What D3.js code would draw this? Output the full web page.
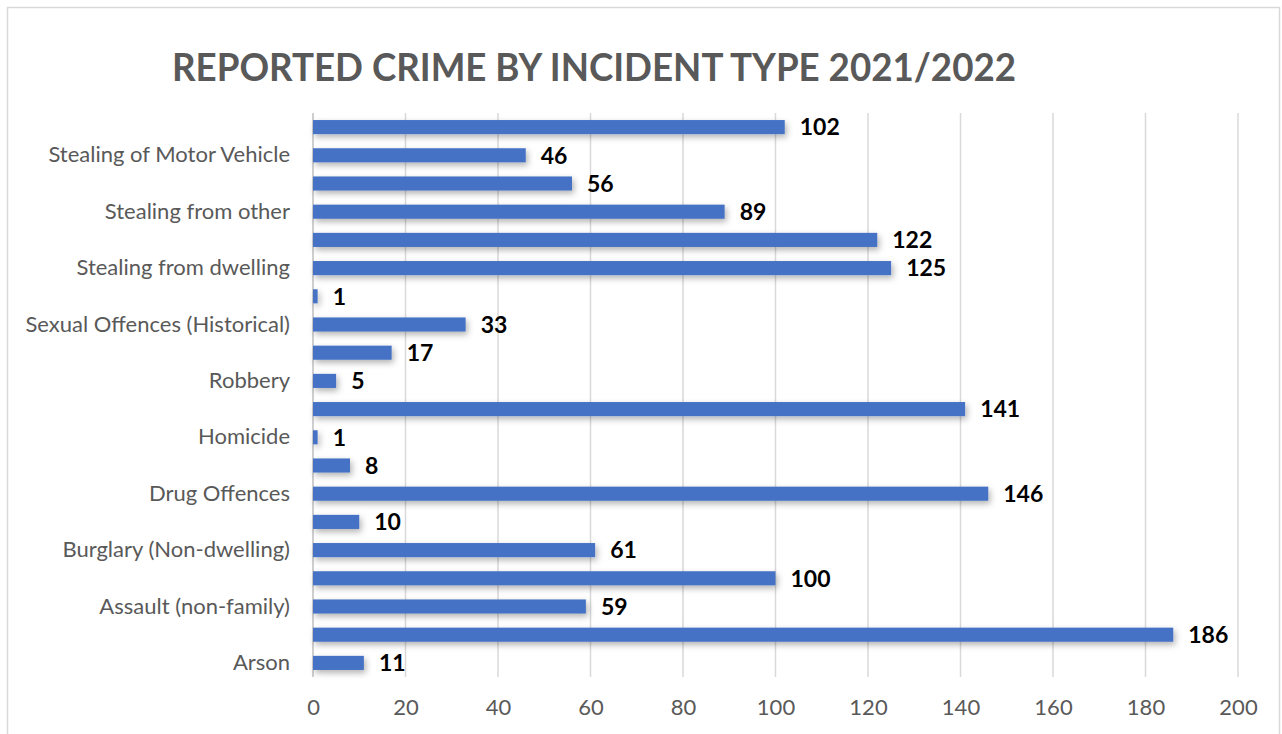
<!DOCTYPE html>
<html>
<head>
<meta charset="utf-8">
<script src="https://cdn.jsdelivr.net/npm/d3@7"></script>
<style>
  html, body { margin: 0; padding: 0; background: #fff; }
  svg { display: block; }
</style>
</head>
<body>
<svg id="chart" width="1282" height="734"></svg>
<script>
// ---- Data (bottom to top, as in the source chart) ----
const categories = [
  "Arson", "", "Assault (non-family)", "", "Burglary (Non-dwelling)", "",
  "Drug Offences", "", "Homicide", "", "Robbery", "",
  "Sexual Offences (Historical)", "", "Stealing from dwelling", "",
  "Stealing from other ", "", "Stealing of Motor Vehicle", ""
];
const values = [11, 186, 59, 100, 61, 10, 146, 8, 1, 141, 5, 17, 33, 1, 125, 122, 89, 56, 46, 102];
const xTicks = [0, 20, 40, 60, 80, 100, 120, 140, 160, 180, 200];
const title = "REPORTED CRIME BY INCIDENT TYPE 2021/2022";

const svg = d3.select("#chart");

// chart frame
svg.append("rect")
  .attr("x", 7.5).attr("y", 7.5)
  .attr("width", 1272).attr("height", 740)
  .attr("fill", "#fff").attr("stroke", "#d9d9d9").attr("stroke-width", 1.5);

const defs = svg.append("defs");
const f = defs.append("filter").attr("id", "shadow")
  .attr("x", "-20%").attr("y", "-60%").attr("width", "140%").attr("height", "260%");
f.append("feDropShadow").attr("dx", 2).attr("dy", 3).attr("stdDeviation", 3)
  .attr("flood-color", "#000").attr("flood-opacity", 0.3);

// title
svg.append("text")
  .attr("x", 172).attr("y", 81)
  .attr("textLength", 844).attr("lengthAdjust", "spacingAndGlyphs")
  .attr("font-family", "Lato, 'Open Sans', sans-serif")
  .attr("font-weight", 700).attr("font-size", 39)
  .attr("fill", "#595959")
  .text(title);

const plot = { left: 313, right: 1238, top: 113, bottom: 677 };

const x = d3.scaleLinear().domain([0, 200]).range([plot.left, plot.right]);
const idx = d3.range(categories.length);
const y = d3.scaleBand().domain(idx).range([plot.bottom, plot.top])
  .paddingInner(0.5).paddingOuter(0.25);

// gridlines
svg.append("g").selectAll("line").data(xTicks).join("line")
  .attr("x1", d => x(d)).attr("x2", d => x(d))
  .attr("y1", plot.top).attr("y2", plot.bottom)
  .attr("stroke", d => d === 0 ? "#bfbfbf" : "#d9d9d9")
  .attr("stroke-width", 1.5);

// x axis labels
const xAxis = d3.axisBottom(x).tickValues(xTicks).tickSize(0).tickPadding(0);
const gx = svg.append("g").attr("transform", `translate(0,${plot.bottom + 22})`).call(xAxis);
gx.select(".domain").remove();
gx.selectAll("text")
  .attr("font-family", "Lato, 'Open Sans', sans-serif")
  .attr("font-size", 22).attr("fill", "#595959")
  .attr("dy", "0.72em");

// y axis labels (every other category, as in source)
const yAxis = d3.axisLeft(y).tickSize(0).tickPadding(23).tickFormat(i => categories[i]);
const gy = svg.append("g").attr("transform", `translate(${plot.left},0)`).call(yAxis);
gy.select(".domain").remove();
gy.selectAll("text")
  .attr("font-family", "Lato, 'Open Sans', sans-serif")
  .attr("font-size", 22).attr("fill", "#595959");

// bars
svg.append("g").attr("filter", "url(#shadow)")
  .selectAll("rect").data(idx).join("rect")
  .attr("x", x(0))
  .attr("y", i => y(i))
  .attr("width", i => x(values[i]) - x(0))
  .attr("height", y.bandwidth())
  .attr("fill", "#4472c4");

// data labels
svg.append("g")
  .selectAll("text").data(idx).join("text")
  .attr("x", i => x(values[i]) + 15)
  .attr("y", i => y(i) + y.bandwidth() / 2)
  .attr("dy", "0.36em")
  .attr("font-family", "Lato, 'Open Sans', sans-serif")
  .attr("font-weight", 700).attr("font-size", 23)
  .attr("fill", "#000")
  .text(i => values[i]);
</script>
</body>
</html>
